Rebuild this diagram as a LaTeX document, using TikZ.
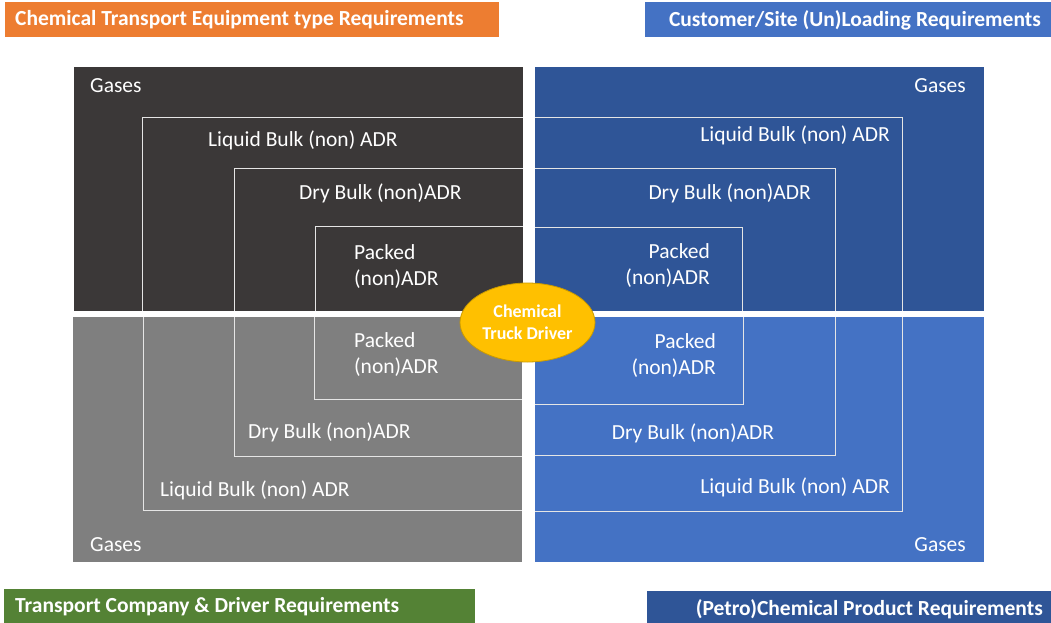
\documentclass[tikz,border=0pt]{standalone}
\usepackage{fontspec}
\setmainfont{Carlito}
\usetikzlibrary{shapes.geometric}
\definecolor{equipdark}{HTML}{3B3838}
\definecolor{sitedark}{HTML}{2F5597}
\definecolor{companygray}{HTML}{7F7F7F}
\definecolor{productblue}{HTML}{4472C4}
\definecolor{bannerorange}{HTML}{ED7D31}
\definecolor{bannergreen}{HTML}{548235}
\definecolor{drivergold}{HTML}{FFC000}
\definecolor{driverrim}{HTML}{C99A00}

\begin{document}
\begin{tikzpicture}[x=1pt, y=-1pt,
    lbl/.style={text=white, inner sep=0pt, font=\fontsize{21.5}{26}\selectfont},
    bannertext/.style={text=white, inner sep=0pt, font=\bfseries\fontsize{21.5}{24}\selectfont},
    rim/.style={draw=white!80!gray, line width=1pt}]
		\useasboundingbox (0,0) rectangle (1051,623);

		% four quadrants
		\fill[equipdark] (74,67) rectangle (523,311);
		\fill[sitedark] (535,67) rectangle (984,311);
		\fill[companygray] (73,317) rectangle (522,562);
		\fill[productblue] (535,317) rectangle (984,562);

		% nested borders
		\foreach \x/\y in {142/118, 234/168, 315/226} {
			\draw[rim] (\x,311) -- (\x,\y) -- (523,\y);
		}
		\foreach \x/\y in {902/118, 835/168, 742/227} {
			\draw[rim] (535,\y) -- (\x,\y) -- (\x,311);
		}
		\foreach \x/\y in {143/510, 234/456, 314/399} {
			\draw[rim] (\x,317) -- (\x,\y) -- (522,\y);
		}
		\foreach \x/\y in {902/511, 835/455, 743/404} {
			\draw[rim] (535,\y) -- (\x,\y) -- (\x,317);
		}

		% labels
		\node[lbl, anchor=west] (gasTL) at (90,86) {Gases};
		\node[lbl, anchor=west] (liqTL) at (208,140) {Liquid Bulk (non) ADR};
		\node[lbl, anchor=west] (dryTL) at (299,193) {Dry Bulk (non)ADR};
		\node[lbl, anchor=west, align=left] (packTL) at (354,267) {Packed\\(non)ADR};

		\node[lbl, anchor=east] (gasTR) at (966,86) {Gases};
		\node[lbl, anchor=east] (liqTR) at (890,135) {Liquid Bulk (non) ADR};
		\node[lbl, anchor=east] (dryTR) at (811,193) {Dry Bulk (non)ADR};
		\node[lbl, anchor=east, align=right] (packTR) at (710,266) {Packed\\(non)ADR};

		\node[lbl, anchor=west, align=left] (packBL) at (354,355) {Packed\\(non)ADR};
		\node[lbl, anchor=west] (dryBL) at (248,432) {Dry Bulk (non)ADR};
		\node[lbl, anchor=west] (liqBL) at (160,490) {Liquid Bulk (non) ADR};
		\node[lbl, anchor=west] (gasBL) at (90,545) {Gases};

		\node[lbl, anchor=east, align=right] (packBR) at (716,356) {Packed\\(non)ADR};
		\node[lbl] (dryBR) at (693,433) {Dry Bulk (non)ADR};
		\node[lbl, anchor=east] (liqBR) at (890,487) {Liquid Bulk (non) ADR};
		\node[lbl, anchor=east] (gasBR) at (966,545) {Gases};

		% banners
		\fill[bannerorange] (5,2) rectangle (499,37);
		\fill[productblue] (645,2) rectangle (1051,37);
		\fill[bannergreen] (4,589) rectangle (475,623);
		\fill[sitedark] (647,591) rectangle (1051,623);
		\node[bannertext, anchor=west] (equipban) at (15,20) {Chemical Transport Equipment type Requirements};
		\node[bannertext, anchor=east] (siteban) at (1041,20) {Customer/Site (Un)Loading Requirements};
		\node[bannertext, anchor=west] (companyban) at (15,607) {Transport Company \& Driver Requirements};
		\node[bannertext, anchor=east] (productban) at (1043,609) {(Petro)Chemical Product Requirements};

		% driver in the middle
		\node[ellipse, fill=drivergold, draw=driverrim, line width=0.8pt,
			minimum width=135pt, minimum height=79pt, inner sep=0pt,
			text=white, align=center, font=\bfseries\fontsize{18}{22}\selectfont]
			(driver) at (527.5,322.5) {Chemical\\Truck Driver};
	\end{tikzpicture}
\end{document}
